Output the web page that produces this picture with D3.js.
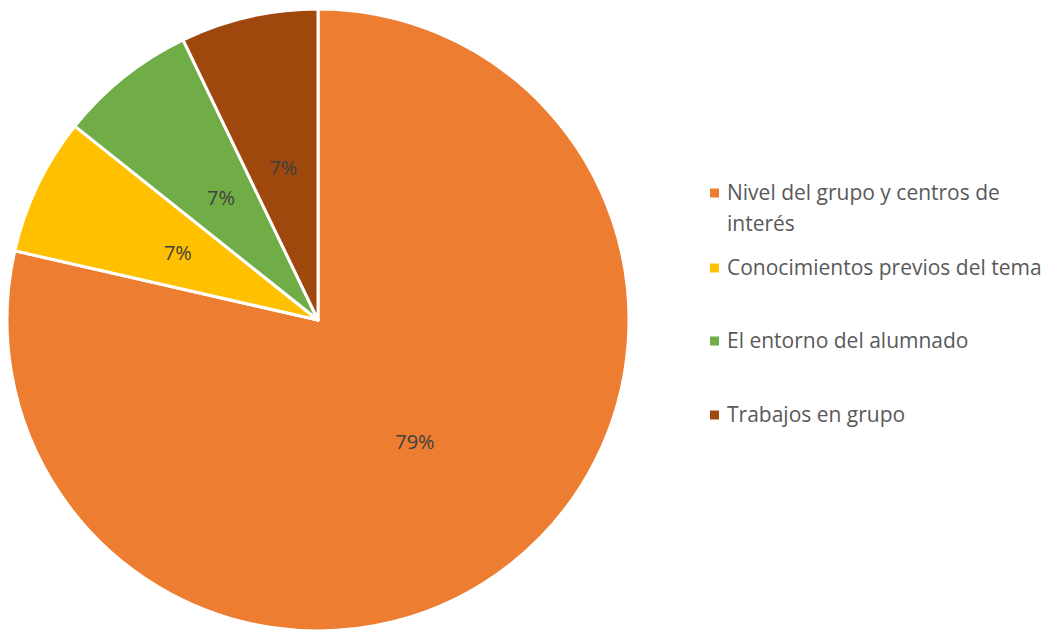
<!DOCTYPE html>
<html>
<head>
<meta charset="utf-8">
<script src="https://cdn.jsdelivr.net/npm/d3@7"></script>
<style>
  html, body { margin: 0; padding: 0; background: #fff; }
  svg { display: block; font-family: "Open Sans", Lato, sans-serif; }
</style>
</head>
<body>
<svg id="chart" width="1049" height="631"></svg>
<script>
// Factores considerados (recuento de respuestas)
const categories = [
  "Nivel del grupo y centros de interés",
  "Conocimientos previos del tema",
  "El entorno del alumnado",
  "Trabajos en grupo"
];
const values = [11, 1, 1, 1];
const colors = ["#ED7D31", "#FFC000", "#70AD47", "#9E480E"];
// Legend lines (the first entry wraps onto two lines)
const legendLines = [
  ["Nivel del grupo y centros de", "interés"],
  ["Conocimientos previos del tema"],
  ["El entorno del alumnado"],
  ["Trabajos en grupo"]
];

const svg = d3.select("#chart");
const cx = 318, cy = 320, radius = 311;

const data = categories.map((c, i) => ({ name: c, value: values[i], color: colors[i] }));
const total = d3.sum(values);

const pie = d3.pie().value(d => d.value).sort(null);
const arc = d3.arc().innerRadius(0).outerRadius(radius);
const labelArc = d3.arc().innerRadius(radius * 0.5).outerRadius(radius * 0.5);

const g = svg.append("g").attr("transform", `translate(${cx},${cy})`);
const arcs = pie(data);

g.selectAll("path")
  .data(arcs)
  .join("path")
  .attr("d", arc)
  .attr("fill", d => d.data.color)
  .attr("stroke", "#fff")
  .attr("stroke-width", 3)
  .attr("stroke-linejoin", "round");

const fmt = d3.format(".0%");
g.selectAll("text.pct")
  .data(arcs)
  .join("text")
  .attr("class", "pct")
  .attr("transform", d => `translate(${labelArc.centroid(d)})`)
  .attr("text-anchor", "middle")
  .attr("dy", "0.35em")
  .attr("font-size", 20)
  .attr("fill", "#404040")
  .text(d => fmt(d.data.value / total));

// Legend
const legendX = 710;
const legendY = [193, 268, 341, 415];
const lineH = 31;
const legend = svg.append("g");
data.forEach((d, i) => {
  const item = legend.append("g").attr("transform", `translate(${legendX},${legendY[i]})`);
  item.append("rect")
    .attr("x", 0).attr("y", -4.5)
    .attr("width", 9).attr("height", 9)
    .attr("fill", d.color);
  const t = item.append("text")
    .attr("x", 17)
    .attr("y", 0)
    .attr("font-size", 21)
    .attr("fill", "#595959");
  legendLines[i].forEach((line, j) => {
    t.append("tspan").attr("x", 17).attr("dy", j === 0 ? "0.35em" : lineH).text(line);
  });
});
</script>
</body>
</html>
